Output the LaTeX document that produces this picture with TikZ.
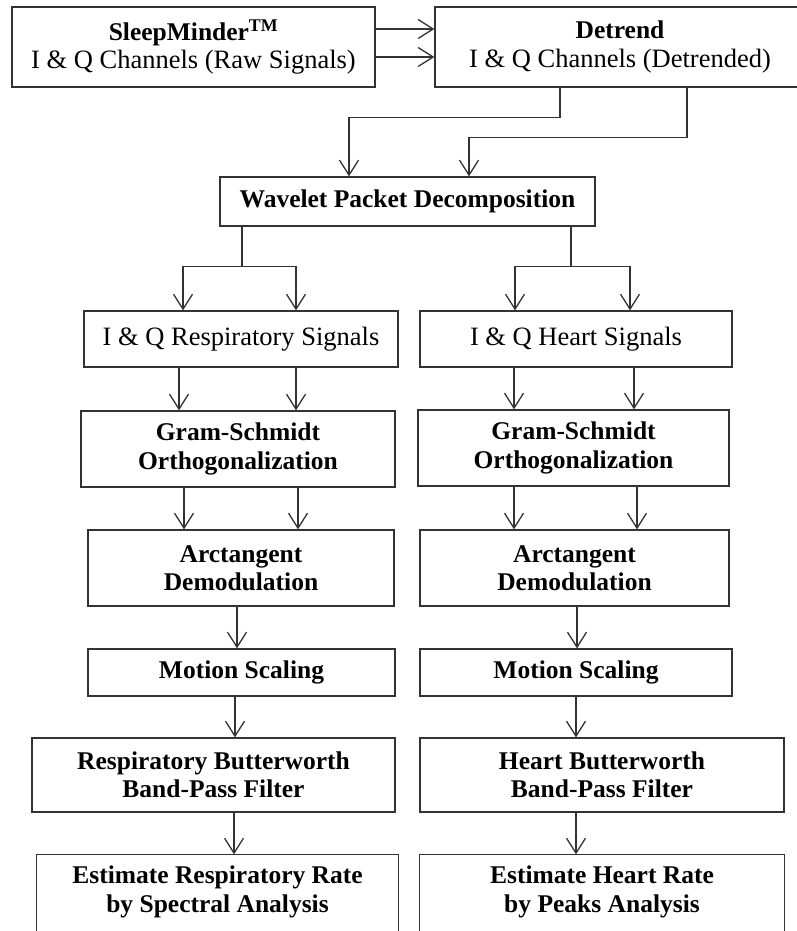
\documentclass[tikz,border=0pt]{standalone}
\usepackage{fontspec}
\setmainfont{Liberation Serif}
\usetikzlibrary{arrows.meta}
\definecolor{linegray}{HTML}{333333}
\begin{document}
\begin{tikzpicture}[x=1pt,y=-1pt,
  box/.style={draw=linegray, line width=1.3pt, inner sep=0pt, align=center,
              font=\fontsize{26.5}{28.5}\selectfont},
  bbox/.style={box, font=\fontsize{25.5}{28.5}\selectfont\bfseries},
  wire/.style={draw=linegray, line width=1.3pt},
  arr/.style={wire, -{Straight Barb[length=15pt,width=19pt]}}]

\useasboundingbox (0,0) rectangle (797,931);
\clip (0,0) rectangle (797,931);

% top row
\node[box, minimum width=363pt, minimum height=80pt] (sm) at (193.5,47)
  {{\fontsize{25.5}{28.5}\selectfont\bfseries SleepMinder\textsuperscript{TM}}\\I \& Q Channels (Raw Signals)};
\node[box, minimum width=370pt, minimum height=80pt] (dt) at (620,47)
  {{\fontsize{25.5}{28.5}\selectfont\bfseries Detrend}\\I \& Q Channels (Detrended)};

% decomposition
\node[bbox, minimum width=375pt, minimum height=49pt] (wp) at (407.5,201.5)
  {Wavelet Packet Decomposition};

% respiratory branch
\node[box, minimum width=314pt, minimum height=56pt] (rs) at (241,339)
  {I \& Q Respiratory Signals};
\node[bbox, minimum width=314pt, minimum height=76pt] (gsl) at (238,449)
  {Gram-Schmidt\\Orthogonalization};
\node[bbox, minimum width=306pt, minimum height=76pt] (atl) at (241,568)
  {Arctangent\\Demodulation};
\node[bbox, minimum width=307pt, minimum height=47pt] (msl) at (241.5,672.5)
  {Motion Scaling};
\node[bbox, minimum width=363pt, minimum height=74pt] (bwl) at (213.5,775)
  {Respiratory Butterworth\\Band-Pass Filter};
\node[bbox, draw=none, minimum width=361pt, minimum height=74pt] (erl) at (217.5,892)
  {Estimate Respiratory Rate\\by Spectral Analysis};
\draw[wire] (erl.north west) rectangle ([yshift=-30pt]erl.south east);

% heart branch
\node[box, minimum width=312pt, minimum height=56pt] (hs) at (576,339)
  {I \& Q Heart Signals};
\node[bbox, minimum width=311pt, minimum height=76pt] (gsr) at (573.5,448)
  {Gram-Schmidt\\Orthogonalization};
\node[bbox, minimum width=309pt, minimum height=76pt] (atr) at (574.5,568)
  {Arctangent\\Demodulation};
\node[bbox, minimum width=312pt, minimum height=47pt] (msr) at (576,672.5)
  {Motion Scaling};
\node[bbox, minimum width=364pt, minimum height=74pt] (bwr) at (602,775)
  {Heart Butterworth\\Band-Pass Filter};
\node[bbox, draw=none, minimum width=364pt, minimum height=74pt] (err) at (602,892)
  {Estimate Heart Rate\\by Peaks Analysis};
\draw[wire] (err.north west) rectangle ([yshift=-30pt]err.south east);

% raw -> detrend (I and Q)
\draw[arr] ([yshift=18pt]sm.east) -- ([yshift=18pt]sm.east -| dt.west);
\draw[arr] ([yshift=-10pt]sm.east) -- ([yshift=-10pt]sm.east -| dt.west);

% detrend -> wavelet
\draw[arr] ([xshift=-60pt]dt.south) -- ++(0,30) -| ([xshift=-58.5pt]wp.north);
\draw[arr] ([xshift=67pt]dt.south) -- ++(0,50) -| ([xshift=61.5pt]wp.north);

% wavelet -> respiratory / heart signals
\coordinate (bl) at ([xshift=-165.5pt,yshift=-40pt]wp.south);
\coordinate (br) at ([xshift=163.5pt,yshift=-40pt]wp.south);
\draw[wire] ([xshift=-165.5pt]wp.south) -- (bl);
\draw[wire] ([xshift=163.5pt]wp.south) -- (br);
\draw[arr] (bl) -| ([xshift=-58pt]rs.north);
\draw[arr] (bl) -| ([xshift=55pt]rs.north);
\draw[arr] (br) -| ([xshift=-61pt]hs.north);
\draw[arr] (br) -| ([xshift=54pt]hs.north);

% signals -> Gram-Schmidt
\draw[arr] ([xshift=-62pt]rs.south) -- ([xshift=-62pt]rs.south |- gsl.north);
\draw[arr] ([xshift=55pt]rs.south) -- ([xshift=55pt]rs.south |- gsl.north);
\draw[arr] ([xshift=-62pt]hs.south) -- ([xshift=-62pt]hs.south |- gsr.north);
\draw[arr] ([xshift=58pt]hs.south) -- ([xshift=58pt]hs.south |- gsr.north);

% Gram-Schmidt -> arctangent
\draw[arr] ([xshift=-54pt]gsl.south) -- ([xshift=-54pt]gsl.south |- atl.north);
\draw[arr] ([xshift=60pt]gsl.south) -- ([xshift=60pt]gsl.south |- atl.north);
\draw[arr] ([xshift=-59.5pt]gsr.south) -- ([xshift=-59.5pt]gsr.south |- atr.north);
\draw[arr] ([xshift=63.5pt]gsr.south) -- ([xshift=63.5pt]gsr.south |- atr.north);

% single chains
\draw[arr] ([xshift=-4pt]atl.south) -- ([xshift=-4pt]atl.south |- msl.north);
\draw[arr] ([xshift=-6.5pt]msl.south) -- ([xshift=-6.5pt]msl.south |- bwl.north);
\draw[arr] ([xshift=20.5pt]bwl.south) -- ([xshift=20.5pt]bwl.south |- erl.north);
\draw[arr] ([xshift=2.5pt]atr.south) -- ([xshift=2.5pt]atr.south |- msr.north);
\draw[arr] (msr.south) -- (msr.south |- bwr.north);
\draw[arr] ([xshift=-26pt]bwr.south) -- ([xshift=-26pt]bwr.south |- err.north);

\end{tikzpicture}
\end{document}
